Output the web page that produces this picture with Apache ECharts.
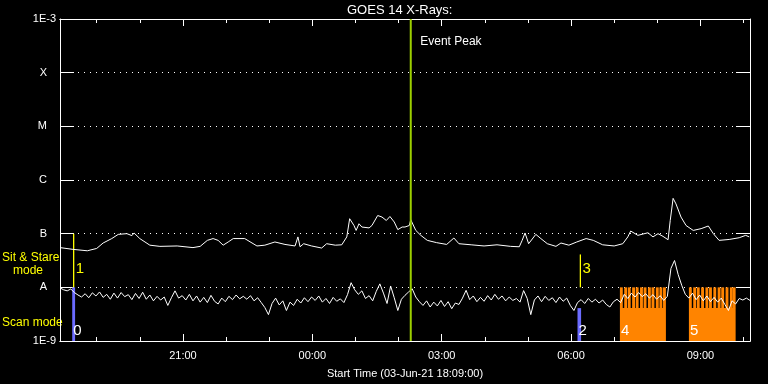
<!DOCTYPE html>
<html><head><meta charset="utf-8">
<script src="https://cdn.jsdelivr.net/npm/echarts@6/dist/echarts.min.js"></script>
<style>html,body{margin:0;padding:0;background:#000}#c{width:768px;height:384px}</style>
</head><body><div id="c"></div>
<script>
// ---------------- data ----------------
const chartTitle = 'GOES 14 X-Rays:';
const startLabel = 'Start Time (03-Jun-21 18:09:00)';
const axisStart = '18:09';
const axisEnd = '10:09';
const majorTickTimes = ['21:00', '00:00', '03:00', '06:00', '09:00'];
const minorTickTimes = ['19:00','20:00','21:00','22:00','23:00','00:00','01:00','02:00','03:00','04:00','05:00','06:00','07:00','08:00','09:00','10:00'];
const classLabels = ['1E-9', 'A', 'B', 'C', 'M', 'X', '1E-3']; // one per decade from 1e-9 W/m2
const eventPeakTime = '02:17';
const eventPeakText = 'Event Peak';
const modeTexts = ['Sit & Stare', 'mode', 'Scan mode'];

// long channel (1-8 A), flux in nW m^-2
const longTimes = ['18:09','18:27','18:47','19:00','19:09','19:21','19:30','19:42','19:49','19:52','20:00','20:14','20:28','20:52','21:14','21:24','21:34','21:42','21:49','21:56','22:03','22:10','22:26','22:43','22:54','23:08','23:22','23:36','23:40','23:43','23:48','23:59','00:13','00:20','00:32','00:41','00:48','00:52','00:58','01:01','01:05','01:09','01:19','01:23','01:31','01:37','01:43','01:48','01:54','01:59','02:05','02:09','02:15','02:17','02:24','02:31','02:40','02:53','03:07','03:17','03:24','03:41','03:59','04:17','04:36','04:48','04:52','04:56','05:01','05:11','05:18','05:27','05:39','05:46','05:57','06:08','06:21','06:31','06:44','07:00','07:12','07:19','07:23','07:33','07:47','07:54','08:01','08:08','08:15','08:18','08:22','08:26','08:33','08:40','08:50','09:01','09:11','09:18','09:26','09:40','09:54','10:03','10:08'];
const longFlux = [55,51,48,53,67,81,97,100,92,103,81,61,58,59,55,58,75,81,75,61,70,81,81,59,61,70,63,59,87,57,65,59,54,65,61,62,87,190,142,115,153,133,128,142,218,204,176,209,165,119,133,133,142,182,115,93,75,68,63,83,65,62,59,62,58,57,75,103,65,97,81,65,58,67,61,70,81,75,62,59,65,87,112,93,104,87,100,89,77,176,455,359,204,142,115,124,139,100,75,78,84,93,87];

// short channel (0.5-4 A), 5-minute samples from shortStart, flux in nW m^-2
const shortStart = '18:09';
const shortCadenceMin = 5;
const shortFlux = [
 9.8,9.0,8.6,9.3,8.0,7.2,6.6,7.6,6.4,7.9,6.9,8.2,
 6.5,7.4,6.0,7.8,6.3,8.0,6.7,7.3,5.9,7.7,6.2,8.1,
 6.0,7.2,5.6,6.8,5.8,6.6,4.6,6.4,8.6,6.3,7.0,5.8,
 7.4,5.6,6.9,5.3,6.5,5.2,7.1,5.5,4.9,6.3,5.4,6.8,
 5.9,7.2,6.1,6.8,6.0,7.0,5.6,6.4,5.2,4.2,3.1,5.0,
 6.3,4.7,5.6,3.7,5.3,4.6,6.0,5.1,6.4,5.4,6.6,5.7,
 6.9,5.3,6.2,5.0,6.5,5.5,6.1,5.2,7.3,12.2,9.0,7.4,
 8.6,6.2,7.0,5.6,8.4,11.6,7.8,5.0,10.6,6.4,3.7,6.0,
 7.1,8.2,9.4,6.6,5.4,4.6,5.6,4.3,5.3,4.5,5.7,4.4,
 5.4,4.0,5.1,4.8,6.3,8.8,5.9,6.9,5.4,6.5,5.5,7.0,
 5.8,7.4,6.0,6.9,5.6,6.6,5.7,6.2,5.3,8.7,6.2,3.1,
 5.8,6.9,5.4,6.8,5.7,6.4,5.2,6.6,5.5,6.3,4.6,3.7,
 5.2,5.9,5.0,6.2,5.3,6.0,5.1,5.8,4.8,4.3,5.4,6.0,
 5.2,7.4,6.2,7.8,6.6,8.0,6.7,7.6,6.3,7.3,6.0,7.0,
 5.7,6.8,22.5,31.6,17.4,10.9,7.4,6.3,7.8,5.9,7.2,5.6,
 6.9,5.4,6.5,5.3,6.3,4.8,3.7,5.6,4.9,6.2,5.8,6.3,
 5.7];

// observation markers
const scanLabels = ['0', '2'];
const scanStart = ['18:26', '06:09'];
const scanEnd = ['18:30', '06:14'];
const scanTop = [10, 4.1];           // nW m^-2
const stareLabels = ['1', '3'];
const stareTime = ['18:28', '06:13'];
const stareTop = [100, 41];
const stareBottom = [10, 10];
const blockLabels = ['4', '5'];
const blockStart = ['07:08', '08:44'];
const blockEnd = ['08:12', '09:49'];
const blockBase = 4.1;
const blockTeethTop = 10;
const block4Teeth = ['07:08','07:14','07:19','07:25','07:30','07:36','07:41','07:47','07:52','07:58','08:03','08:08'];
const block5Teeth = ['08:44','08:50','08:55','09:01','09:07','09:12','09:18','09:24','09:29','09:35','09:41','09:45'];
const toothMin = 4.0;

// ---------------- build ----------------
const FONT = '"Liberation Sans", Arial, sans-serif';
const BLUE = '#6b6bff', YELLOW = '#ffff00', ORANGE = '#ff8400', GREEN = '#9ccf00';
const NW = 1e-9;
const toH = s => { const [h, m] = s.split(':').map(Number); let v = h + m / 60 - 18; if (v < 0) v += 24; return v; };
const fmtH = v => { const t = Math.round(v * 60); const hh = Math.floor(t / 60 + 18) % 24; const mm = t % 60; return String(hh).padStart(2, '0') + ':' + String(mm).padStart(2, '0'); };
const xMin = toH(axisStart), xMax = toH(axisEnd);
const yMin = 1e-9, yMax = 1e-3;
const majorVals = majorTickTimes.map(toH);
const minorVals = minorTickTimes.map(toH);

const longData = longTimes.map((t, i) => [toH(t), longFlux[i] * NW]);
const s0 = toH(shortStart);
const shortData = shortFlux.map((v, i) => [s0 + i * shortCadenceMin / 60, v * NW]);

const obs = [];
scanLabels.forEach((lab, i) => obs.push({ value: [toH(scanStart[i]), toH(scanEnd[i]), scanTop[i] * NW, yMin, 0], lab }));
blockLabels.forEach((lab, i) => obs.push({ value: [toH(blockStart[i]), toH(blockEnd[i]), blockBase * NW, yMin, 2], lab }));
[block4Teeth, block5Teeth].forEach(arr => arr.forEach(s => obs.push({ value: [toH(s), toH(s) + toothMin / 60, blockTeethTop * NW, blockBase * NW, 3], lab: '' })));
stareLabels.forEach((lab, i) => obs.push({ value: [toH(stareTime[i]), toH(stareTime[i]), stareTop[i] * NW, stareBottom[i] * NW, 1], lab }));

function renderObs(params, api) {
  const it = obs[params.dataIndex];
  const kind = it.value[4];
  const a = api.coord([api.value(0), api.value(2)]);
  const b = api.coord([api.value(1), api.value(3)]);
  const children = [];
  if (kind === 1) {
    children.push({ type: 'line', shape: { x1: a[0], y1: a[1], x2: a[0], y2: b[1] }, style: { stroke: YELLOW, lineWidth: 1.3 } });
    children.push({ type: 'text', x: a[0] + 2, y: b[1] - 18, style: { text: it.lab, fill: YELLOW, font: '15px ' + FONT, align: 'left', verticalAlign: 'middle' } });
  } else {
    children.push({ type: 'rect', shape: { x: a[0], y: a[1], width: b[0] - a[0], height: b[1] - a[1] }, style: { fill: kind === 0 ? BLUE : ORANGE } });
    if (it.lab) children.push({ type: 'text', x: a[0] + 1, y: b[1] - 10, style: { text: it.lab, fill: '#fff', font: '15px ' + FONT, align: 'left', verticalAlign: 'middle' } });
  }
  return { type: 'group', children };
}

function renderEvent(params, api) {
  const t = api.value(0);
  const top = api.coord([t, yMax]);
  const bot = api.coord([t, yMin]);
  return { type: 'group', children: [
    { type: 'line', shape: { x1: top[0], y1: top[1], x2: bot[0], y2: bot[1] }, style: { stroke: GREEN, lineWidth: 2 } },
    { type: 'text', x: top[0] + 9.5, y: top[1] + 23, style: { text: eventPeakText, fill: '#fff', font: '12px ' + FONT, align: 'left', verticalAlign: 'middle' } }
  ] };
}

const xBase = { type: 'value', min: xMin, max: xMax, gridIndex: 0, splitLine: { show: false },
  axisLine: { show: true, lineStyle: { color: '#fff', width: 1 } } };
const yBase = { type: 'log', logBase: 10, min: yMin, max: yMax,
  axisLine: { show: true, lineStyle: { color: '#fff', width: 1 } },
  axisTick: { show: true, inside: true, length: 14, lineStyle: { color: '#fff', width: 1 } } };

const option = {
  backgroundColor: '#000',
  animation: false,
  grid: { left: 60, right: 18, top: 19, bottom: 41, containLabel: false },
  graphic: [
    { type: 'text', left: 347, top: 4, style: { text: chartTitle, fill: '#fff', font: '13px ' + FONT } },
    { type: 'text', left: 2, top: 252, style: { text: modeTexts[0], fill: YELLOW, font: '12px ' + FONT } },
    { type: 'text', left: 13, top: 265, style: { text: modeTexts[1], fill: YELLOW, font: '12px ' + FONT } },
    { type: 'text', left: 2, top: 317, style: { text: modeTexts[2], fill: YELLOW, font: '12px ' + FONT } }
  ],
  xAxis: [
    Object.assign({}, xBase, { position: 'bottom',
      axisTick: { show: true, inside: true, length: 7, customValues: majorVals, lineStyle: { color: '#fff' } },
      axisLabel: { show: true, customValues: majorVals, formatter: v => fmtH(v), color: '#fff', fontSize: 11, fontFamily: FONT, margin: 9 },
      name: startLabel, nameLocation: 'middle', nameGap: 27, nameTextStyle: { color: '#fff', fontSize: 11, fontFamily: FONT } }),
    Object.assign({}, xBase, { position: 'bottom',
      axisTick: { show: true, inside: true, length: 4, customValues: minorVals, lineStyle: { color: '#fff' } },
      axisLabel: { show: false } }),
    Object.assign({}, xBase, { position: 'top',
      axisTick: { show: true, inside: true, length: 7, customValues: majorVals, lineStyle: { color: '#fff' } },
      axisLabel: { show: false } }),
    Object.assign({}, xBase, { position: 'top',
      axisTick: { show: true, inside: true, length: 4, customValues: minorVals, lineStyle: { color: '#fff' } },
      axisLabel: { show: false } })
  ],
  yAxis: [
    Object.assign({}, yBase, { position: 'left',
      splitLine: { show: true, lineStyle: { color: '#fff', width: 1, type: [1, 5] } },
      axisLabel: { show: true, margin: 4, color: '#fff', fontSize: 11, fontFamily: FONT,
        formatter: v => { const s = classLabels[Math.round(Math.log10(v)) + 9]; return s.length === 1 ? '{l|' + s + '}' : s; },
        rich: { l: { padding: [0, 9, 0, 0], color: '#fff', fontSize: 11, fontFamily: FONT } } } }),
    Object.assign({}, yBase, { position: 'right', splitLine: { show: false }, axisLabel: { show: false } })
  ],
  series: [
    { type: 'custom', name: 'obs', xAxisIndex: 0, yAxisIndex: 0, z: 2, renderItem: renderObs,
      encode: { x: [0, 1], y: [2, 3] }, data: obs.map(o => o.value) },
    { type: 'line', name: 'long', xAxisIndex: 0, yAxisIndex: 0, z: 3, showSymbol: false, symbol: 'none',
      lineStyle: { color: '#fff', width: 1 }, data: longData },
    { type: 'line', name: 'short', xAxisIndex: 0, yAxisIndex: 0, z: 3, showSymbol: false, symbol: 'none',
      lineStyle: { color: '#fff', width: 1 }, data: shortData },
    { type: 'custom', name: 'event', xAxisIndex: 0, yAxisIndex: 0, z: 4, renderItem: renderEvent,
      encode: { x: 0, y: 1 }, data: [[toH(eventPeakTime), yMax]] }
  ]
};
const chart = echarts.init(document.getElementById('c'), null, { renderer: 'canvas' });
chart.setOption(option);
</script></body></html>
